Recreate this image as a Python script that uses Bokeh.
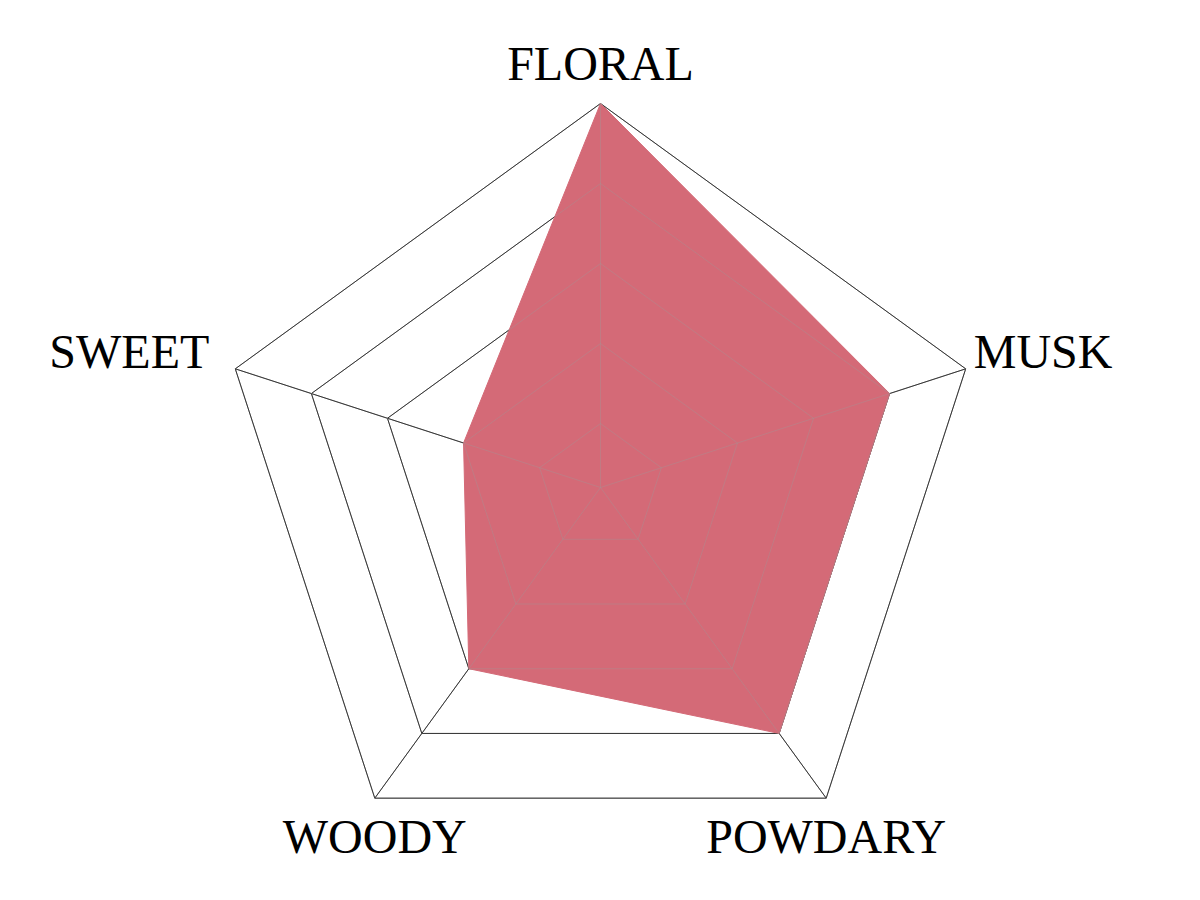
import math
from bokeh.plotting import figure
from bokeh.models import Range1d, ColumnDataSource
from bokeh.core.properties import value
from bokeh.embed import file_html
from bokeh.resources import INLINE

# ---- data ----
categories = ["FLORAL", "MUSK", "POWDARY", "WOODY", "SWEET"]
scores = [5, 4, 4, 3, 2]
levels = [1, 2, 3, 4, 5]
scale_min = 0.2
scale_max = 5

# ---- geometry ----
R = 384.0
n = len(categories)
angles = [math.pi / 2 - 2 * math.pi * i / n for i in range(n)]


def rad(v):
    return R * (v - scale_min) / (scale_max - scale_min)


p = figure(width=1184, height=884, output_backend="svg", toolbar_location=None,
           x_range=Range1d(-600, 584), y_range=Range1d(-397, 487),
           min_border=0)
p.axis.visible = False
p.grid.visible = False
p.outline_line_color = None
p.background_fill_color = "white"

# grid pentagons
gx, gy = [], []
for lv in levels:
    r = rad(lv)
    xs = [r * math.cos(a) for a in angles] + [r * math.cos(angles[0])]
    ys = [r * math.sin(a) for a in angles] + [r * math.sin(angles[0])]
    gx.append(xs)
    gy.append(ys)
p.multi_line(gx, gy, line_color="black", line_width=1)

# spokes
sx0 = [0] * n
sy0 = [0] * n
sx1 = [rad(levels[-1]) * math.cos(a) for a in angles]
sy1 = [rad(levels[-1]) * math.sin(a) for a in angles]
p.segment(sx0, sy0, sx1, sy1, line_color="black", line_width=1)

# value polygon
vx = [rad(v) * math.cos(a) for v, a in zip(scores, angles)]
vy = [rad(v) * math.sin(a) for v, a in zip(scores, angles)]
p.patch(vx, vy, fill_color="#d46a77", fill_alpha=1.0, line_color="#d46a77", line_width=1)

# grid showing through the fill
p.multi_line(gx, gy, line_color="#9a9a9a", line_alpha=0.35, line_width=1)
p.segment(sx0, sy0, sx1, sy1, line_color="#9a9a9a", line_alpha=0.35, line_width=1)

# labels
lx, ly, la = [], [], []
for a in angles:
    c, s = math.cos(a), math.sin(a)
    x = R * c
    y = R * s + 17
    if c > 0.9:
        x += 8
        align = "left"
    elif c < -0.9:
        x -= 26
        align = "right"
    else:
        align = "center"
    if s > 0.9:
        y += 23
    elif s < -0.5:
        y -= 55
    lx.append(x)
    ly.append(y)
    la.append(align)

src = ColumnDataSource(dict(x=lx, y=ly, t=categories, a=la))
p.text(x="x", y="y", text="t", text_align="a", source=src,
       text_baseline="alphabetic", text_font=value("Liberation Serif"),
       text_font_size="48px", text_color="black")

open("out.html", "w").write(file_html(p, INLINE))
